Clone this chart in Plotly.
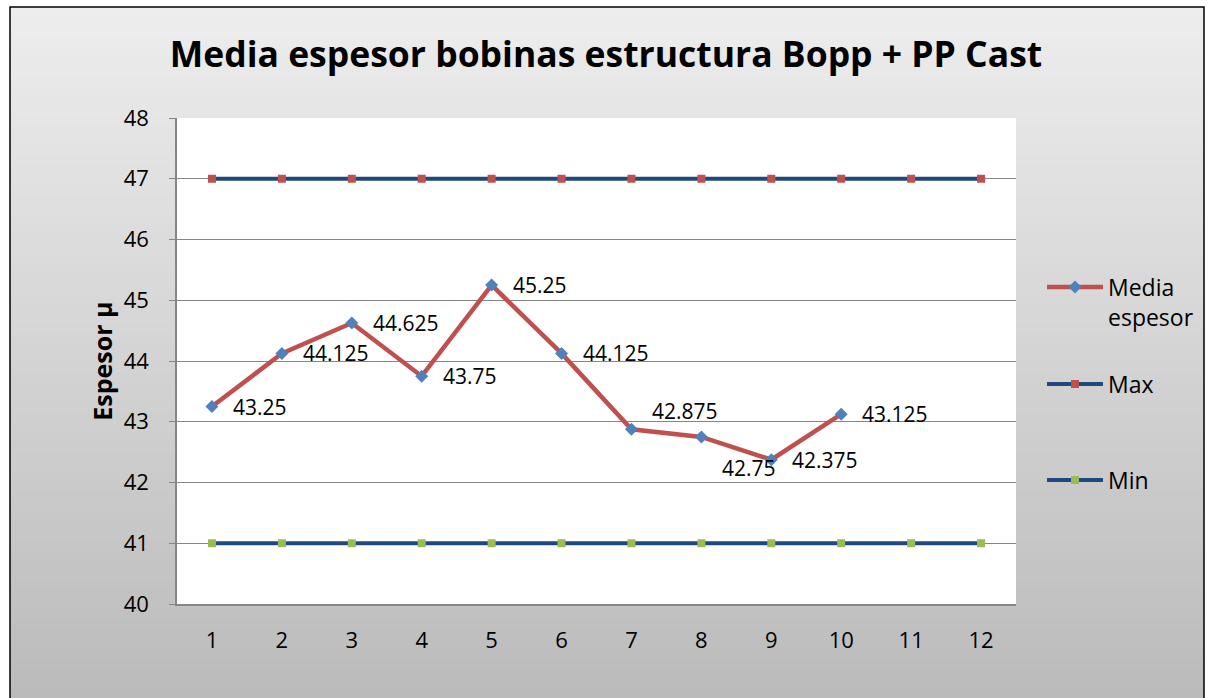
import plotly.graph_objects as go
import numpy as np

# data
bobinas = [1, 2, 3, 4, 5, 6, 7, 8, 9, 10, 11, 12]
media_espesor = [43.25, 44.125, 44.625, 43.75, 45.25, 44.125, 42.875, 42.75, 42.375, 43.125]
espesor_max = [47] * 12
espesor_min = [41] * 12
# vertical nudge of each data label (px, up is positive)
label_dy = [0, 0, 0, 0, 0, 0, 18, -31, 0, 0]

FONT = "Open Sans"
W, H = 1212, 698
L, R, T, B = 177, 196, 118, 94
pw, ph = W - L - R, H - T - B

def px_x(p):
    return (p - L) / pw

def px_y(p):
    return (H - B - p) / ph

fig = go.Figure()

fig.add_trace(go.Scatter(
    x=bobinas[:len(media_espesor)], y=media_espesor, name="Media<br>espesor",
    mode="lines+markers",
    line=dict(color="#C0504D", width=4.5),
    marker=dict(symbol="diamond", size=10, color="#4F81BD"),
    legend="legend",
))
fig.add_trace(go.Scatter(
    x=bobinas, y=espesor_max, name="Max", mode="lines+markers",
    line=dict(color="#1F497D", width=4),
    marker=dict(symbol="square", size=8, color="#C0504D"),
    legend="legend2",
))
fig.add_trace(go.Scatter(
    x=bobinas, y=espesor_min, name="Min", mode="lines+markers",
    line=dict(color="#1F497D", width=4),
    marker=dict(symbol="square", size=8, color="#9BBB59"),
    legend="legend3",
))

# data labels
annotations = []
for xv, yv, dy in zip(bobinas, media_espesor, label_dy):
    annotations.append(dict(x=xv, y=yv, text=f"{yv:g}", showarrow=False,
                            xanchor="left", yanchor="middle", xshift=19, yshift=dy,
                            font=dict(size=21, family=FONT, color="black")))

# background gradient inside the frame
shapes = []
top_px, bot_px = 7, H
n = 70
edges = np.linspace(top_px, bot_px, n + 1)
for i in range(n):
    c = int(round(237 - (237 - 187) * i / (n - 1)))
    shapes.append(dict(type="rect", xref="paper", yref="paper", layer="below",
                       x0=px_x(10), x1=px_x(1204), y0=px_y(edges[i + 1] + 1), y1=px_y(edges[i]),
                       line=dict(width=0), fillcolor=f"rgb({c},{c},{c})"))
# white plot area
shapes.append(dict(type="rect", xref="paper", yref="paper", layer="below",
                   x0=0, x1=1, y0=0, y1=1, line=dict(width=0), fillcolor="white"))
# outer frame
shapes.append(dict(type="rect", xref="paper", yref="paper", layer="above",
                   x0=px_x(10), x1=px_x(1204), y0=px_y(H + 10), y1=px_y(7),
                   line=dict(color="black", width=1.5), fillcolor="rgba(0,0,0,0)"))

leg = dict(x=px_x(1042), xanchor="left", yanchor="middle", bgcolor="rgba(0,0,0,0)",
           font=dict(size=23, family=FONT, color="black"), itemwidth=56, valign="top")

fig.update_layout(
    width=W, height=H,
    margin=dict(l=L, r=R, t=T, b=B),
    paper_bgcolor="white", plot_bgcolor="rgba(0,0,0,0)",
    font=dict(family=FONT, color="black"),
    title=dict(text="<b>Media espesor bobinas estructura Bopp + PP Cast</b>",
               x=0.5, xanchor="center", y=1 - 55 / H, yanchor="middle",
               font=dict(size=35.5, family=FONT, color="black")),
    shapes=shapes,
    annotations=annotations,
    showlegend=True,
    legend=dict(leg, y=px_y(302)),
    legend2=dict(leg, y=px_y(384)),
    legend3=dict(leg, y=px_y(480)),
)

fig.update_xaxes(
    range=[0.5, 12.5], tickmode="array", tickvals=bobinas,
    showgrid=False, zeroline=False,
    showline=True, linecolor="#868686", linewidth=1.5,
    tickfont=dict(size=22, family=FONT), ticklabelstandoff=16,
)
fig.update_yaxes(
    range=[40, 48], dtick=1,
    showgrid=True, gridcolor="#868686", gridwidth=1.3, zeroline=False,
    showline=True, linecolor="#868686", linewidth=1.5,
    ticks="outside", ticklen=6, tickcolor="#868686",
    tickfont=dict(size=22, family=FONT), ticklabelstandoff=16,
    title=dict(text="<b>Espesor µ</b>", font=dict(size=25, family=FONT), standoff=4),
)

# page body has a default 8px margin; remove it so the figure sits at the window origin
fig.write_html("out.html", config={"displayModeBar": False},
               post_script="document.body.style.margin='0';")
